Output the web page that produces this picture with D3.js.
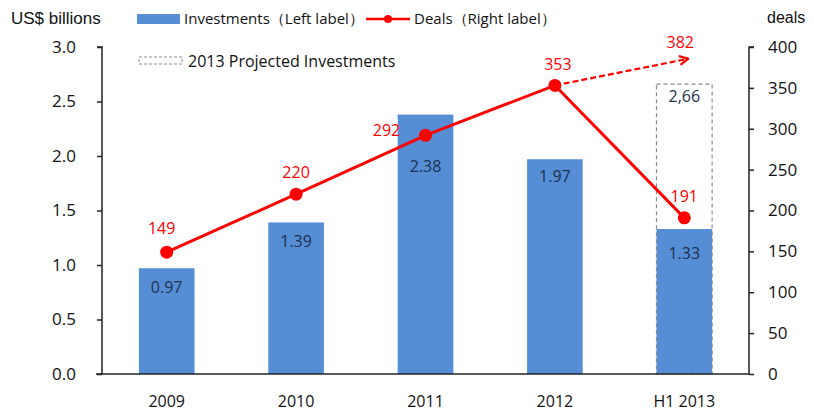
<!DOCTYPE html>
<html>
<head>
  <meta charset="utf-8" />
  <script src="https://d3js.org/d3.v7.min.js"></script>
  <style>
    body { margin: 0; background: #fff; }
    text { font-family: "Open Sans", "Liberation Sans", sans-serif; }
  </style>
</head>
<body>
<div id="chart"></div>
<script>
  // chart data
  const categories = ["2009", "2010", "2011", "2012", "H1 2013"];
  const investments = [0.97, 1.39, 2.38, 1.97, 1.33];
  const deals = [149, 220, 292, 353, 191];
  const projectedInvestment = 2.66;
  const projectedDeals = 382;
  const leftTicks = [0, 0.5, 1.0, 1.5, 2.0, 2.5, 3.0];
  const rightTicks = [0, 50, 100, 150, 200, 250, 300, 350, 400];

  const W = 814, H = 412;
  const m = { left: 102, right: 65, top: 47, bottom: 38 };
  const blue = "#558ed5", red = "#ff0000", navy = "#1f3050";

  const svg = d3.select("#chart").append("svg")
    .attr("width", W).attr("height", H);

  const x = d3.scaleBand().domain(categories)
    .range([m.left, W - m.right]).paddingInner(0.57).paddingOuter(0.285);
  const yL = d3.scaleLinear().domain([0, 3]).range([H - m.bottom, m.top]);
  const yR = d3.scaleLinear().domain([0, 400]).range([H - m.bottom, m.top]);
  const cx = d => x(d) + x.bandwidth() / 2;

  // bars
  svg.selectAll("rect.bar").data(investments).enter().append("rect")
    .attr("class", "bar")
    .attr("x", (d, i) => x(categories[i]))
    .attr("y", d => yL(d))
    .attr("width", x.bandwidth())
    .attr("height", d => yL(0) - yL(d))
    .attr("fill", blue);

  // projected investments box
  const last = categories[categories.length - 1];
  svg.append("rect")
    .attr("x", x(last)).attr("y", yL(projectedInvestment))
    .attr("width", x.bandwidth()).attr("height", yL(0) - yL(projectedInvestment))
    .attr("fill", "none").attr("stroke", "#8a8a8a")
    .attr("stroke-width", 1.2).attr("stroke-dasharray", "4,3");

  // bar labels (offset below bar top)
  const barLabelDy = [20, 20, 53, 18, 26];
  svg.selectAll("text.bl").data(investments).enter().append("text")
    .attr("x", (d, i) => cx(categories[i]))
    .attr("y", (d, i) => yL(d) + barLabelDy[i])
    .attr("text-anchor", "middle").attr("dominant-baseline", "middle")
    .attr("font-size", 16).attr("fill", navy)
    .text(d => d.toFixed(2));
  svg.append("text")
    .attr("x", cx(last)).attr("y", yL(projectedInvestment) + 14)
    .attr("text-anchor", "middle").attr("dominant-baseline", "middle")
    .attr("font-size", 16).attr("fill", navy)
    .text(projectedInvestment.toFixed(2).replace(".", ","));

  // axes
  const axisColor = "#222";
  svg.append("line").attr("x1", 96).attr("x2", W - m.right)
    .attr("y1", yL(0)).attr("y2", yL(0))
    .attr("stroke", axisColor).attr("stroke-width", 1.5);

  const left = svg.append("g").attr("transform", `translate(${m.left},0)`)
    .call(d3.axisLeft(yL).tickValues(leftTicks).tickFormat(d3.format(".1f"))
      .tickSize(5).tickPadding(21));
  const right = svg.append("g").attr("transform", `translate(${W - m.right},0)`)
    .call(d3.axisRight(yR).tickValues(rightTicks).tickSize(5).tickPadding(14));
  [left, right].forEach(g => {
    g.select(".domain").attr("stroke", axisColor).attr("stroke-width", 1.5)
      .attr("d", g === left
        ? `M-5,${yL(3)}H0V${yL(0)}` : `M5,${yR(400)}H0V${yR(0)}`);
    g.selectAll(".tick line").attr("stroke", axisColor).attr("stroke-width", 1.5);
    g.selectAll(".tick text").attr("font-size", 17).attr("fill", "#111")
      .style("font-family", "'Open Sans', sans-serif");
  });

  // category labels
  svg.selectAll("text.cat").data(categories).enter().append("text")
    .attr("x", d => cx(d)).attr("y", yL(0) + 33)
    .attr("text-anchor", "middle").attr("font-size", 16).attr("fill", "#111")
    .text(d => d);

  // projected deals arrow
  svg.append("defs").append("marker")
    .attr("id", "arr").attr("viewBox", "0 0 10 10")
    .attr("refX", 9).attr("refY", 5)
    .attr("markerWidth", 5).attr("markerHeight", 5)
    .attr("orient", "auto")
    .append("path").attr("d", "M1,1L9,5L1,9")
    .attr("fill", "none").attr("stroke", red).attr("stroke-width", 2);
  svg.append("line")
    .attr("x1", cx(categories[3])).attr("y1", yR(deals[3]))
    .attr("x2", cx(last) + 4).attr("y2", yR(projectedDeals) - 3)
    .attr("stroke", red).attr("stroke-width", 2.2)
    .attr("stroke-dasharray", "6,3").attr("marker-end", "url(#arr)");

  // deals line
  const line = d3.line().x((d, i) => cx(categories[i])).y(d => yR(d));
  svg.append("path").datum(deals).attr("d", line)
    .attr("fill", "none").attr("stroke", red).attr("stroke-width", 3);
  svg.selectAll("circle.pt").data(deals).enter().append("circle")
    .attr("cx", (d, i) => cx(categories[i])).attr("cy", d => yR(d))
    .attr("r", 6.5).attr("fill", red);

  // deal labels
  const dealLabelOff = [[-5, -22], [0, -20], [-39, -4], [3, -20], [0, -20]];
  svg.selectAll("text.dl").data(deals).enter().append("text")
    .attr("x", (d, i) => cx(categories[i]) + dealLabelOff[i][0])
    .attr("y", (d, i) => yR(d) + dealLabelOff[i][1])
    .attr("text-anchor", "middle").attr("dominant-baseline", "middle")
    .attr("font-size", 16).attr("fill", red)
    .text(d => d);
  svg.append("text")
    .attr("x", cx(last) - 4).attr("y", yR(projectedDeals) - 18)
    .attr("text-anchor", "middle").attr("dominant-baseline", "middle")
    .attr("font-size", 16).attr("fill", red).text(projectedDeals);

  // axis titles
  svg.append("text").attr("x", 11).attr("y", 24)
    .attr("font-size", 17).attr("fill", "#111")
    .style("font-family", "'Liberation Sans', Arial, sans-serif").text("US$ billions");
  svg.append("text").attr("x", 767).attr("y", 23)
    .attr("font-size", 16).attr("fill", "#111")
    .style("font-family", "'Liberation Sans', Arial, sans-serif").text("deals");

  // legend
  const lg = svg.append("g").attr("font-size", 15).attr("fill", "#111");
  lg.append("rect").attr("x", 137).attr("y", 14).attr("width", 43).attr("height", 10).attr("fill", blue);
  lg.append("text").attr("x", 184).attr("y", 24).text("Investments（Left label）");
  lg.append("line").attr("x1", 366).attr("x2", 410).attr("y1", 19).attr("y2", 19)
    .attr("stroke", red).attr("stroke-width", 2.5);
  lg.append("circle").attr("cx", 388).attr("cy", 19).attr("r", 4).attr("fill", red);
  lg.append("text").attr("x", 414).attr("y", 24).text("Deals（Right label）");
  lg.append("rect").attr("x", 139).attr("y", 57).attr("width", 43).attr("height", 7)
    .attr("fill", "none").attr("stroke", "#8a8a8a").attr("stroke-dasharray", "3,2");
  lg.append("text").attr("x", 188).attr("y", 67).attr("font-size", 16)
    .text("2013 Projected Investments");
</script>
</body>
</html>
